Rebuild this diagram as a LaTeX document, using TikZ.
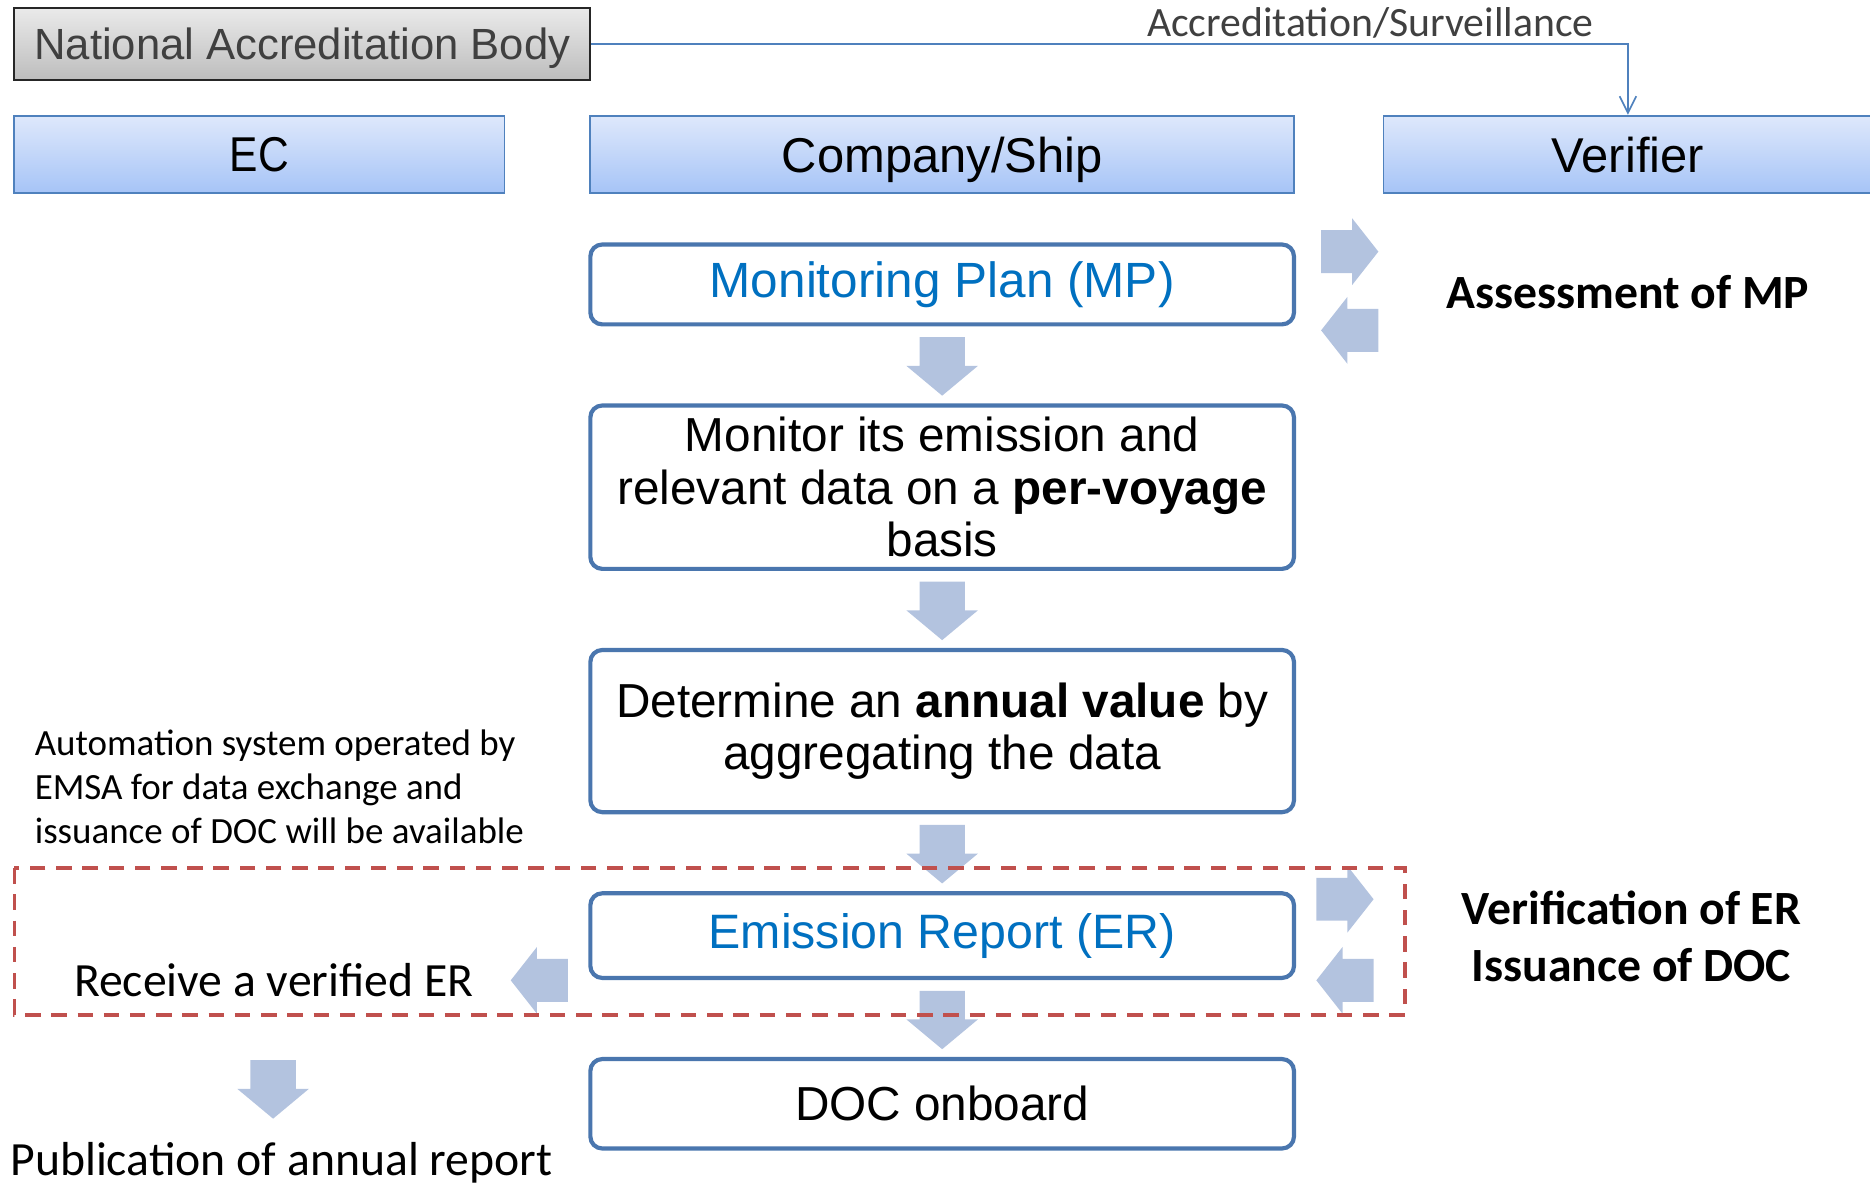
\documentclass[tikz,border=0pt]{standalone}
\usepackage{fontspec}
\usetikzlibrary{calc,arrows.meta}
\setmainfont{Liberation Sans}
\newfontfamily\boxfont{Liberation Sans}
\newfontfamily\ecfont{Liberation Sans}[FakeStretch=0.87]
\newfontfamily\calfont{Carlito}
\definecolor{arrfill}{RGB}{179,195,223}
\definecolor{procline}{RGB}{74,118,174}
\definecolor{hdrline}{RGB}{79,129,189}
\definecolor{hdrtop}{RGB}{222,232,251}
\definecolor{hdrbot}{RGB}{166,196,247}
\definecolor{bluetxt}{RGB}{0,112,192}
\definecolor{redline}{RGB}{192,80,77}
\definecolor{graytxt}{RGB}{64,64,64}
\definecolor{nabtop}{RGB}{234,234,234}
\definecolor{nabbot}{RGB}{189,189,189}
\tikzset{
  hdr/.style={draw=hdrline, line width=1.5pt, top color=hdrtop, bottom color=hdrbot,
    inner sep=0pt, minimum height=65pt, text depth=0pt, font=\boxfont\fontsize{41}{46}\selectfont},
  nab/.style={draw=black!85, line width=1.5pt, top color=nabtop, bottom color=nabbot,
    inner sep=0pt, minimum width=483pt, minimum height=60pt, text=graytxt, text depth=0pt,
    font=\boxfont\fontsize{36.6}{40}\selectfont},
  proc/.style={draw=procline, line width=3.5pt, rounded corners=10pt, fill=white,
    minimum width=590pt, inner sep=0pt, align=center,
    font=\boxfont\fontsize{40}{44}\selectfont},
  note/.style={inner sep=0pt, font=\calfont\fontsize{40}{48}\selectfont, align=center},
  conn/.style={draw=hdrline, line width=1.4pt},
  pics/downarr/.style={code={\fill[arrfill] (-19,0) -- (19,0) -- (19,24) -- (30,24) -- (0,49) -- (-30,24) -- (-19,24) -- cycle;}},
  pics/rightarr/.style={code={\fill[arrfill] (0,-18) -- (26,-18) -- (26,-28) -- (48,0) -- (26,28) -- (26,18) -- (0,18) -- cycle;}},
  pics/leftarr/.style={code={\fill[arrfill] (0,-18) -- (-26,-18) -- (-26,-28) -- (-48,0) -- (-26,28) -- (-26,18) -- (0,18) -- cycle;}},
}
\begin{document}
\begin{tikzpicture}[x=1pt,y=-1pt]
\useasboundingbox (0,0) rectangle (1568,994);
% top
\node[nab] (nab) at (253.5,37) {National Accreditation Body};
\node[hdr, minimum width=411pt, font=\ecfont\fontsize{41}{46}\selectfont] (ec) at (217.5,129.5) {EC};
\node[hdr, minimum width=590pt] (co) at (790,129.5) {Company/Ship};
\node[hdr, minimum width=410pt] (ver) at (1365,129.5) {Verifier};
\draw[conn, -{Straight Barb[length=14pt,width=14pt,line width=1.4pt]}] (nab.east) -| (ver.north);
\node[inner sep=0pt, text=graytxt, font=\calfont\fontsize{35}{40}\selectfont] (acc) at (1149,19) {Accreditation/Surveillance};
% process boxes
\node[proc, minimum height=67pt, text=bluetxt, font=\boxfont\fontsize{41.5}{44}\selectfont] (mp) at (790,238.5) {Monitoring Plan (MP)};
\node[proc, minimum height=137pt] (mon) at (790,408.5) {Monitor its emission and\\relevant data on a \textbf{per-voyage}\\basis};
\node[proc, minimum height=136pt] (det) at (790,613) {Determine an \textbf{annual value} by\\aggregating the data};
\node[proc, minimum height=71pt, text=bluetxt, font=\boxfont\fontsize{40.5}{44}\selectfont] (er) at (790,784.5) {Emission Report (ER)};
\node[proc, minimum height=75pt] (doc) at (790,925.5) {DOC onboard};
% side texts
\node[note, font=\calfont\bfseries\fontsize{40}{48}\selectfont] (ass) at (1365,245) {Assessment of MP};
\node[note, font=\calfont\bfseries\fontsize{40}{48}\selectfont] (vio) at (1368,785) {Verification of ER\\Issuance of DOC};
\node[note] (recv) at (229.5,822) {Receive a verified ER};
\node[note, font=\calfont\fontsize{31}{37}\selectfont, align=left, anchor=west] (auto) at (29,660) {Automation system operated by\\EMSA for data exchange and\\issuance of DOC will be available};
\node[note] (pub) at (236,975) {Publication of annual report};
% block arrows
\pic at ($(mp.south)+(0,9)$) {downarr};
\pic at ($(mon.south)+(0,9)$) {downarr};
\pic at ($(det.south)+(0,9)$) {downarr};
\pic at ($(er.south)+(0,9)$) {downarr};
\pic at (229,889) {downarr};
\pic at ($(mp.east)+(21,-27.5)$) {rightarr};
\pic at ($(mp.east)+(69,38.5)$) {leftarr};
\pic at ($(er.east)+(17,-30.5)$) {rightarr};
\pic at ($(er.east)+(65,37.5)$) {leftarr};
\pic at ($(er.west)+(-17,37.5)$) {leftarr};
% dashed frame
\draw[redline, line width=3pt, dash pattern=on 13pt off 9pt] (12,728) rectangle (1178,851);
\end{tikzpicture}
\end{document}
